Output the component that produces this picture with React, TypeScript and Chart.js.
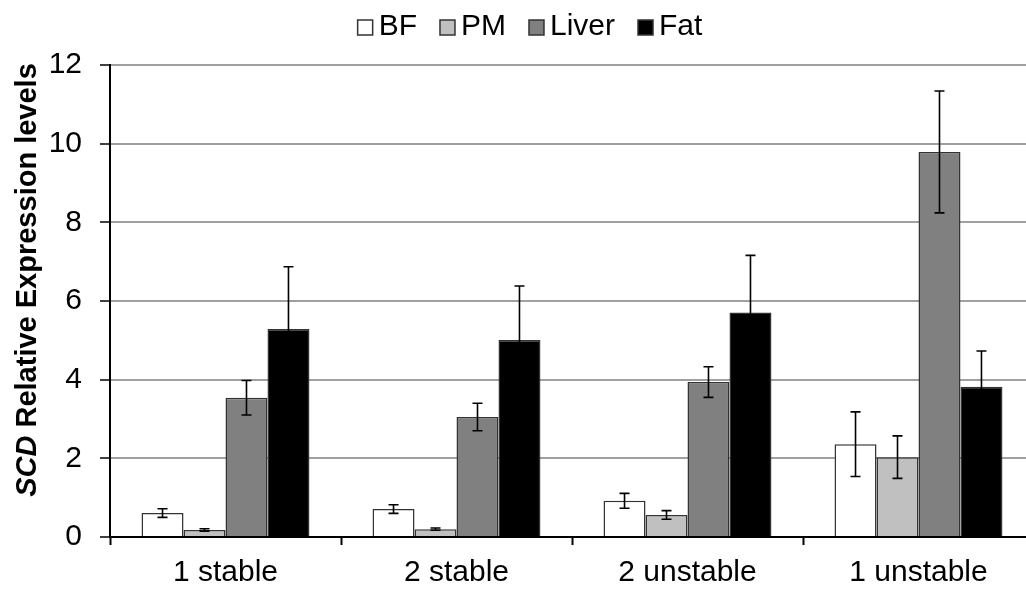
import React, { useEffect, useRef } from "react";
import { Chart, registerables } from "chart.js";

Chart.register(...registerables);

const categories = ["1 stable", "2 stable", "2 unstable", "1 unstable"];
const seriesNames = ["BF", "PM", "Liver", "Fat"];
const bfValues = [0.61, 0.71, 0.92, 2.36];
const bfErrors = [0.11, 0.11, 0.19, 0.82];
const pmValues = [0.18, 0.2, 0.56, 2.03];
const pmErrors = [0.03, 0.03, 0.11, 0.54];
const liverValues = [3.54, 3.05, 3.94, 9.79];
const liverErrors = [0.44, 0.35, 0.39, 1.55];
const fatValues = [5.29, 5.01, 5.71, 3.82];
const fatErrors = [1.58, 1.37, 1.45, 0.91];
const seriesColors = ["#ffffff", "#c0c0c0", "#808080", "#000000"];
const yMin = 0;
const yMax = 12;
const yStep = 2;
const titleItalic = "SCD";
const titleRest = " Relative Expression levels";

const FONT = "'Liberation Sans', Arial, sans-serif";

const errorBarPlugin = {
  id: "errorBars",
  afterDatasetsDraw(chart: any) {
    const ctx = chart.ctx;
    const yScale = chart.scales.y;
    ctx.save();
    ctx.strokeStyle = "#000";
    ctx.lineWidth = 1.6;
    chart.data.datasets.forEach((ds: any, di: number) => {
      const meta = chart.getDatasetMeta(di);
      meta.data.forEach((bar: any, i: number) => {
        const v = ds.data[i];
        const e = ds.errors[i];
        const x = bar.x;
        const yTop = yScale.getPixelForValue(v + e);
        const yBot = yScale.getPixelForValue(v - e);
        const cap = 5;
        ctx.beginPath();
        ctx.moveTo(x, yTop);
        ctx.lineTo(x, yBot);
        ctx.moveTo(x - cap, yTop);
        ctx.lineTo(x + cap, yTop);
        ctx.moveTo(x - cap, yBot);
        ctx.lineTo(x + cap, yBot);
        ctx.stroke();
      });
    });
    ctx.restore();
  },
};

const legendPlugin = {
  id: "customLegend",
  afterDraw(chart: any) {
    const ctx = chart.ctx;
    ctx.save();
    ctx.font = `30px ${FONT}`;
    const box = 15;
    const gapText = 6;
    const gapItem = 23;
    const widths = chart.data.datasets.map((ds: any) => ctx.measureText(ds.label).width);
    const total =
      widths.reduce((a: number, w: number) => a + box + gapText + w, 0) + gapItem * (widths.length - 1);
    let x = 530 - total / 2;
    const baseline = 35;
    chart.data.datasets.forEach((ds: any, i: number) => {
      ctx.fillStyle = ds.backgroundColor;
      ctx.fillRect(x, baseline - box, box, box);
      ctx.strokeStyle = "#333";
      ctx.lineWidth = 1.5;
      ctx.strokeRect(x, baseline - box, box, box);
      ctx.fillStyle = "#000";
      ctx.textBaseline = "alphabetic";
      ctx.textAlign = "left";
      ctx.fillText(ds.label, x + box + gapText, baseline);
      x += box + gapText + widths[i] + gapItem;
    });
    ctx.restore();
  },
};

const yTitlePlugin = {
  id: "yTitle",
  afterDraw(chart: any) {
    const ctx = chart.ctx;
    ctx.save();
    const f1 = `italic bold 29px ${FONT}`;
    const f2 = `bold 29px ${FONT}`;
    ctx.font = f1;
    const w1 = ctx.measureText(titleItalic).width;
    ctx.font = f2;
    const w2 = ctx.measureText(titleRest).width;
    const total = w1 + w2;
    const cy = 280;
    ctx.translate(36, cy + total / 2);
    ctx.rotate(-Math.PI / 2);
    ctx.fillStyle = "#000";
    ctx.textBaseline = "alphabetic";
    ctx.textAlign = "left";
    ctx.font = f1;
    ctx.fillText(titleItalic, 0, 0);
    ctx.font = f2;
    ctx.fillText(titleRest, w1, 0);
    ctx.restore();
  },
};

export default function App() {
  const ref = useRef<HTMLCanvasElement>(null);
  useEffect(() => {
    if (!ref.current) return;
    const values = [bfValues, pmValues, liverValues, fatValues];
    const errors = [bfErrors, pmErrors, liverErrors, fatErrors];
    const chart = new Chart(ref.current, {
      type: "bar",
      data: {
        labels: categories,
        datasets: seriesNames.map((name, i) => ({
          label: name,
          data: values[i],
          errors: errors[i],
          backgroundColor: seriesColors[i],
          borderColor: "#333",
          borderWidth: 1.5,
          categoryPercentage: 0.727,
          barPercentage: 1.0,
        })) as any,
      },
      options: {
        responsive: false,
        animation: false,
        devicePixelRatio: 1,
        layout: { padding: { top: 65, right: 6, left: 0, bottom: 0 } },
        plugins: {
          legend: { display: false },
          tooltip: { enabled: false },
        },
        scales: {
          x: {
            afterFit: (s: any) => {
              s.height = 59;
            },
            grid: {
              offset: true,
              drawOnChartArea: false,
              drawTicks: true,
              tickLength: 8,
              tickColor: "#000",
              tickWidth: 2,
            },
            border: { color: "#000", width: 2 },
            ticks: {
              color: "#000",
              padding: 10,
              font: { family: FONT, size: 30 },
              maxRotation: 0,
            },
          },
          y: {
            min: yMin,
            max: yMax,
            afterFit: (s: any) => {
              s.width = 110;
            },
            grid: {
              color: "#a0a0a0",
              lineWidth: 2,
              tickLength: 10,
              tickColor: "#000",
              tickWidth: 1.5,
            },
            border: { color: "#000", width: 2 },
            ticks: {
              stepSize: yStep,
              color: "#000",
              padding: 18,
              font: { family: FONT, size: 30 },
            },
          },
        },
      },
      plugins: [errorBarPlugin, legendPlugin, yTitlePlugin],
    });
    return () => chart.destroy();
  }, []);
  return (
    <div
      style={{
        position: "fixed",
        left: 0,
        top: 0,
        width: 1026,
        height: 596,
        overflow: "hidden",
        background: "#fff",
      }}
    >
      <canvas ref={ref} width={1040} height={596} style={{ display: "block" }} />
    </div>
  );
}
